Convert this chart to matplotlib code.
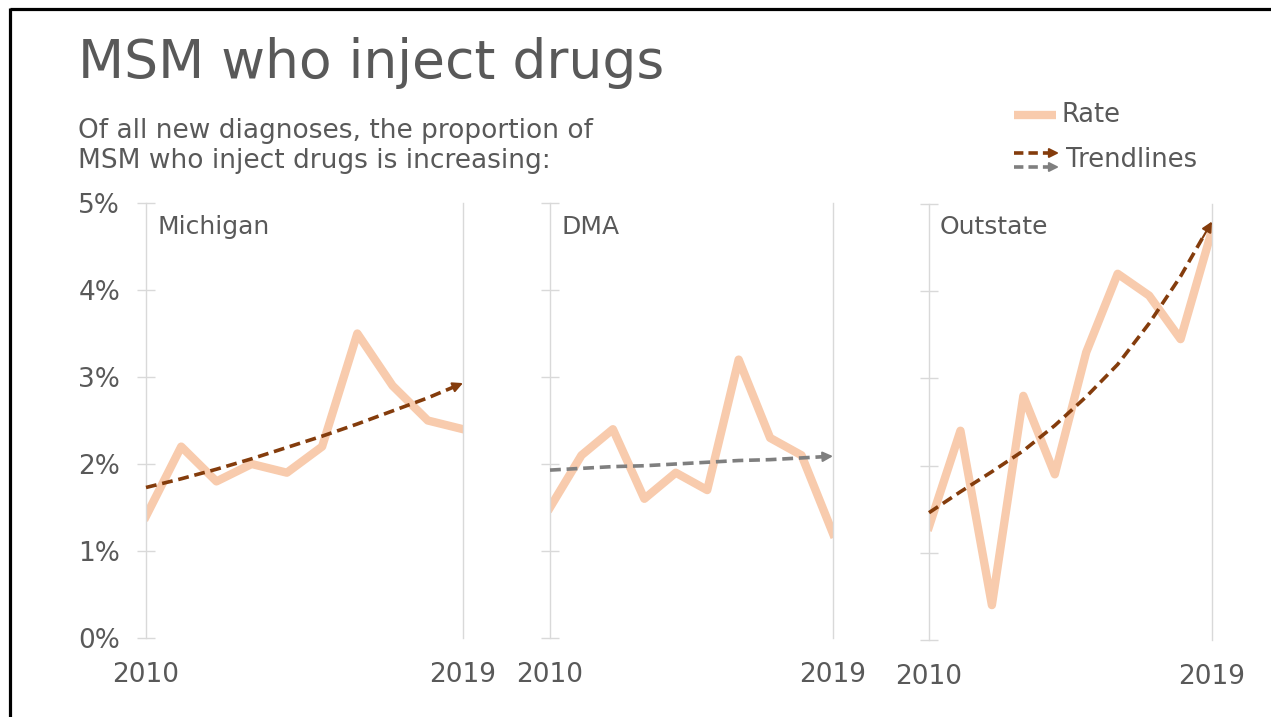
import matplotlib
matplotlib.use("Agg")
import matplotlib.pyplot as plt

# ---------------- data ----------------
years = [2010, 2011, 2012, 2013, 2014, 2015, 2016, 2017, 2018, 2019]
regions = ["Michigan", "DMA", "Outstate"]
michigan_rate = [1.4, 2.2, 1.8, 2.0, 1.9, 2.2, 3.5, 2.9, 2.5, 2.4]
dma_rate = [1.5, 2.1, 2.4, 1.6, 1.9, 1.7, 3.2, 2.3, 2.1, 1.2]
outstate_rate = [1.3, 2.4, 0.4, 2.8, 1.9, 3.3, 4.2, 3.95, 3.45, 4.7]
# trendlines (per year)
michigan_trend = [1.73, 1.83, 1.94, 2.06, 2.19, 2.32, 2.46, 2.61, 2.76, 2.93]
dma_trend = [1.93, 1.95, 1.97, 1.98, 2.00, 2.02, 2.04, 2.05, 2.07, 2.09]
outstate_trend = [1.46, 1.70, 1.93, 2.17, 2.46, 2.79, 3.16, 3.63, 4.17, 4.80]
y_ticks = [0, 1, 2, 3, 4, 5]
y_tick_labels = ["0%", "1%", "2%", "3%", "4%", "5%"]
x_tick_labels = ["2010", "2019"]
title = "MSM who inject drugs"
subtitle = ["Of all new diagnoses, the proportion of",
            "MSM who inject drugs is increasing:"]
legend_labels = ["Rate", "Trendlines"]

# ---------------- style ----------------
W, H = 1271, 717
TXT = "#595959"
GRID = "#D9D9D9"
RATE_C = "#F8CBAD"
BROWN = "#843C0C"
GRAY = "#7F7F7F"
DASH = (0, (3.0, 1.6))

plt.rcParams["font.family"] = ["DejaVu Sans"]
fig = plt.figure(figsize=(W / 100, H / 100), dpi=100)

# overlay axes in pixel coords
ov = fig.add_axes([0, 0, 1, 1])
ov.set_xlim(0, W)
ov.set_ylim(H, 0)
ov.axis("off")

# border
ov.plot([10, W], [8.5, 8.5], color="black", lw=2.3, solid_capstyle="butt")
ov.plot([10, 10], [7.5, H], color="black", lw=2.3, solid_capstyle="butt")

ov.text(78, 78, title, fontsize=38.5, color=TXT, va="baseline", ha="left")
ov.text(78, 138, subtitle[0], fontsize=19, color=TXT, va="baseline", ha="left")
ov.text(78, 168, subtitle[1], fontsize=19, color=TXT, va="baseline", ha="left")

# legend
ov.plot([1014, 1056], [115, 115], color=RATE_C, lw=6, solid_capstyle="butt")
ov.text(1062, 115, legend_labels[0], fontsize=18.5, color=TXT, va="center", ha="left")
for yy, c in [(153, BROWN), (167, GRAY)]:
    ov.plot([1014, 1048], [yy, yy], color=c, lw=2.6, ls=(0, (2.6, 1.4)))
    ov.annotate("", xy=(1059, yy), xytext=(1048, yy),
                arrowprops=dict(arrowstyle="-|>", color=c, lw=1.5,
                                mutation_scale=14, shrinkA=0, shrinkB=0))
ov.text(1066, 160, legend_labels[1], fontsize=18.5, color=TXT, va="center", ha="left")

panels = [
    (michigan_rate, michigan_trend, BROWN, (146, 463, 638, 203)),
    (dma_rate, dma_trend, GRAY, (550, 833, 638, 203)),
    (outstate_rate, outstate_trend, BROWN, (929, 1212, 640, 204)),
]

for i, (rate, trend, tc, (x0, x1, yb, yt)) in enumerate(panels):
    ax = fig.add_axes([x0 / W, (H - yb) / H, (x1 - x0) / W, (yb - yt) / H])
    ax.set_xlim(years[0], years[-1])
    ax.set_ylim(0, 5)
    ax.patch.set_alpha(0)
    for s in ["top", "bottom"]:
        ax.spines[s].set_visible(False)
    for s in ["left", "right"]:
        ax.spines[s].set_color(GRID)
        ax.spines[s].set_linewidth(1.0)
    ax.plot(years, rate, color=RATE_C, lw=6, solid_joinstyle="round", zorder=2)
    dx_line = 0.25
    ax.plot(years[:-1] + [years[-1] - dx_line],
            trend[:-1] + [trend[-1] - dx_line * (trend[-1] - trend[-2])],
            color=tc, lw=2.6, ls=DASH, zorder=3, clip_on=False)
    dx = 0.3
    ax.annotate("", xy=(years[-1], trend[-1]),
                xytext=(years[-1] - dx, trend[-1] - dx * (trend[-1] - trend[-2])),
                arrowprops=dict(arrowstyle="-|>", color=tc, lw=1.5,
                                mutation_scale=15, shrinkA=0, shrinkB=0),
                zorder=4, annotation_clip=False)
    ax.set_yticks(y_ticks)
    ax.tick_params(axis="y", direction="inout", length=13, width=1.0,
                   color=GRID, pad=12, labelsize=19, labelcolor=TXT)
    if i == 0:
        ax.set_yticklabels(y_tick_labels)
    else:
        ax.set_yticklabels([])
    ax.set_xticks([years[0], years[-1]])
    ax.set_xticklabels(x_tick_labels)
    ax.tick_params(axis="x", length=0, pad=17, labelsize=19, labelcolor=TXT)
    ov.text(x0 + 11, 234, regions[i], fontsize=18, color=TXT,
            va="baseline", ha="left")

fig.savefig("out.png", dpi=100)
